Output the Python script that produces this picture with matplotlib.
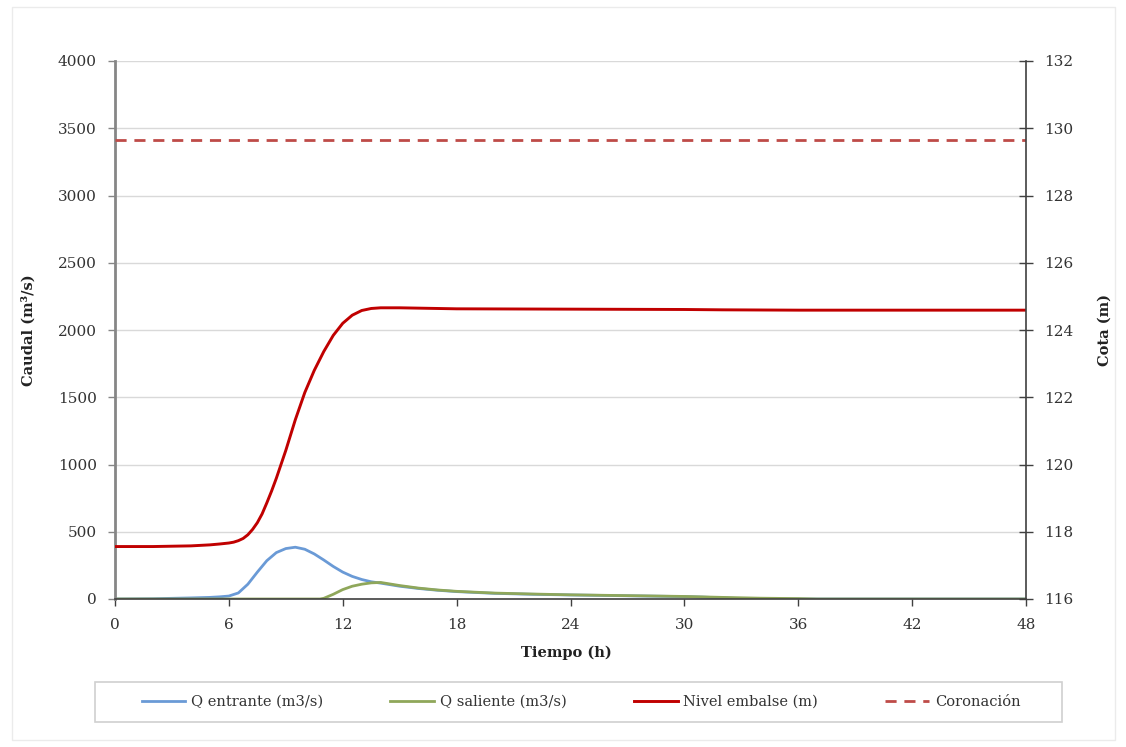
import matplotlib
matplotlib.use('Agg')
import matplotlib.pyplot as plt
from matplotlib.patches import Rectangle
from matplotlib.lines import Line2D

plt.rcParams['font.family'] = ['DejaVu Serif']

# reservoir level (m), right axis
hours_level = [0, 2, 4, 5, 5.5, 6, 6.25, 6.5, 6.75, 7, 7.25, 7.5, 7.75, 8,
               8.25, 8.5, 9, 9.5, 10, 10.5, 11, 11.5, 12, 12.5, 13, 13.5, 14,
               15, 16, 18, 24, 30, 32, 36, 42, 48]
level_m = [117.56, 117.56, 117.58, 117.61, 117.635, 117.665, 117.69, 117.735,
           117.80, 117.91, 118.07, 118.27, 118.53, 118.86, 119.21, 119.59,
           120.42, 121.33, 122.14, 122.80, 123.36, 123.84, 124.20, 124.44,
           124.58, 124.64, 124.66, 124.66, 124.65, 124.63, 124.62, 124.61,
           124.60, 124.59, 124.59, 124.59]

# inflow (m3/s)
hours_in = [0, 2, 3, 4, 5, 5.5, 6, 6.5, 7, 7.5, 8, 8.5, 9, 9.5, 10, 10.5, 11,
            11.5, 12, 12.5, 13, 13.5, 14, 15, 16, 17, 18, 20, 22, 24, 26, 28,
            30, 31, 32, 33, 34, 48]
q_in = [0, 2, 5, 8, 12, 16, 22, 45, 110, 200, 285, 345, 375, 385, 370, 335,
        290, 242, 200, 168, 145, 128, 118, 95, 78, 65, 55, 42, 35, 30, 26, 22,
        18, 14, 8, 3, 0, 0]

# outflow (m3/s)
hours_out = [0, 10.8, 11, 11.5, 12, 12.5, 13, 13.5, 14, 15, 16, 17, 18, 20,
             22, 24, 26, 28, 30, 32, 34, 36, 37, 48]
q_out = [0, 0, 5, 35, 70, 95, 110, 120, 123, 100, 81, 67, 57, 44, 37, 31, 27,
         23, 19, 12, 6, 3, 0, 0]

# crest level (m)
crown_hours = [0, 48]
crown_m = [129.65, 129.65]

labels = ['Q entrante (m3/s)', 'Q saliente (m3/s)', 'Nivel embalse (m)', 'Coronación']
c_in, c_out, c_lvl, c_crown = '#6A9AD6', '#8FA75A', '#C00000', '#BE4B48'

fig = plt.figure(figsize=(11.26, 7.47), dpi=100)
ax = fig.add_axes([115/1126, 1 - 599/747, 911/1126, 538/747])
ax2 = ax.twinx()

ax.plot(hours_in, q_in, color=c_in, lw=2.0)
ax.plot(hours_out, q_out, color=c_out, lw=2.0)
ax2.plot(hours_level, level_m, color=c_lvl, lw=2.1)
ax2.plot(crown_hours, crown_m, color=c_crown, lw=2.0, ls=(0, (4, 2.8)))

ax.set_xlim(0, 48)
ax.set_ylim(0, 4000)
ax2.set_ylim(116, 132)
ax.set_xticks(range(0, 49, 6))
ax.set_yticks(range(0, 4001, 500))
ax2.set_yticks(range(116, 133, 2))

ax.yaxis.grid(True, color='#D9D9D9', lw=1)
ax.set_axisbelow(True)

for s in ['top', 'right']:
    ax.spines[s].set_visible(False)
for s in ['top', 'left', 'bottom']:
    ax2.spines[s].set_visible(False)
ax.spines['left'].set_color('#868686')
ax.spines['left'].set_linewidth(2)
ax.spines['bottom'].set_color('#404040')
ax.spines['bottom'].set_linewidth(1.2)
ax2.spines['right'].set_color('#404040')
ax2.spines['right'].set_linewidth(1.2)

ax.tick_params(axis='y', direction='out', length=5, width=1, color='#868686',
               pad=8, labelsize=11, labelcolor='#333333')
ax.tick_params(axis='x', direction='out', length=5, width=1, color='#404040',
               pad=9, labelsize=11, labelcolor='#333333')
ax2.tick_params(axis='y', direction='inout', length=10, width=1, color='#404040',
                pad=8, labelsize=11, labelcolor='#333333')

ax.set_xlabel('Tiempo (h)', fontweight='bold', fontsize=10.5, color='#222222')
ax.set_ylabel('Caudal (m³/s)', fontweight='bold', fontsize=10.5, color='#222222')
ax2.set_ylabel('Cota (m)', fontweight='bold', fontsize=10.5, color='#222222')
ax.xaxis.label.set_va('center')
ax.yaxis.label.set_va('center')
ax2.yaxis.label.set_va('center')
ax.xaxis.set_label_coords(0.495, (599 - 653) / 538)
ax.yaxis.set_label_coords((28 - 115) / 911, 0.5)
ax2.yaxis.set_label_coords((1105 - 115) / 911, 0.5)

handles = [Line2D([], [], color=c_in, lw=2.0),
           Line2D([], [], color=c_out, lw=2.0),
           Line2D([], [], color=c_lvl, lw=2.1),
           Line2D([], [], color=c_crown, lw=2.0, ls=(0, (4, 2.8)))]
fig.legend(handles, labels, loc='center', bbox_to_anchor=(581/1126, 1 - 702/747),
           ncol=4, frameon=False, fontsize=10.5, handlelength=3.0,
           handletextpad=0.4, columnspacing=4.6, labelcolor='#333333')
fig.add_artist(Rectangle((95/1126, 1 - 722/747), (1062 - 95)/1126, 40/747,
                         transform=fig.transFigure, fill=False,
                         edgecolor='#D0D0D0', lw=1.2))
fig.add_artist(Rectangle((12/1126, 1 - 740/747), (1115 - 12)/1126, 733/747,
                         transform=fig.transFigure, fill=False,
                         edgecolor='#EBEBEB', lw=1))

fig.savefig('out.png', dpi=100)
